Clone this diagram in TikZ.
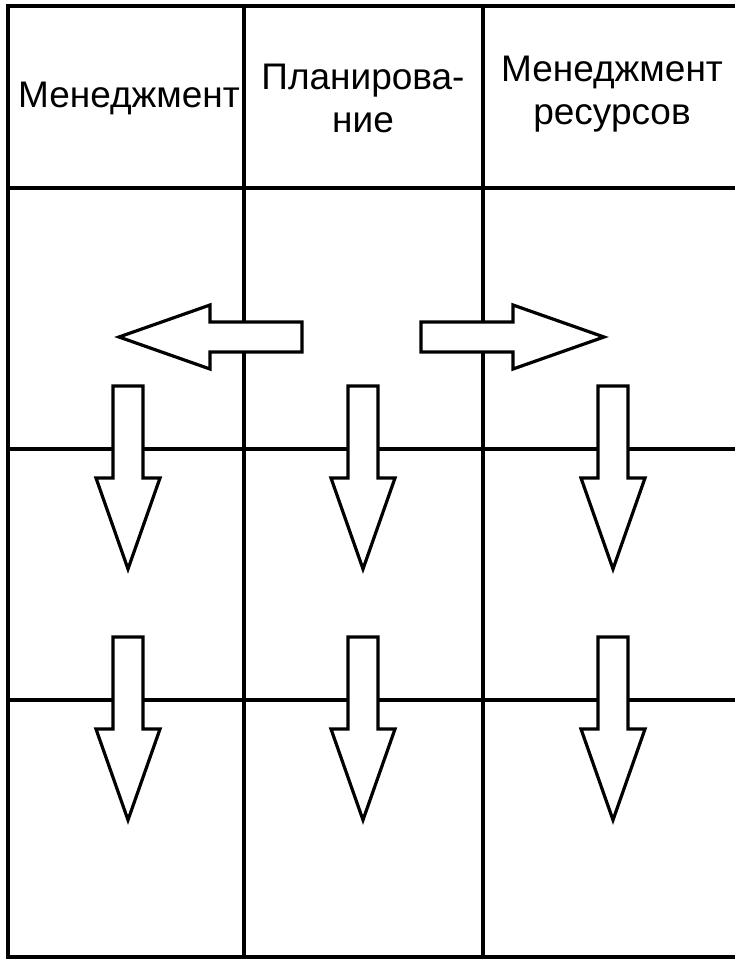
\documentclass[tikz,border=0pt]{standalone}
\usepackage{fontspec}
\setmainfont{Liberation Sans}
\begin{document}
\begin{tikzpicture}[x=1pt,y=-1pt,
  gridline/.style={line width=3.6pt,line cap=rect},
  arrowline/.style={draw,fill=white,line width=3.2pt,line join=miter},
  headtext/.style={font=\fontsize{37}{43}\selectfont,align=center,inner sep=0pt},
  fatarrow/.pic={
    \path[arrowline] (0,-15) -- (92,-15) -- (92,-32) -- (183,0)
      -- (92,32) -- (92,15) -- (0,15) -- cycle;
  }]
\useasboundingbox (0,0) rectangle (735,960);
\clip (0,0) rectangle (735,960);

% table frame and cell borders
\draw[gridline] (760,6) -- (8,6) -- (8,957) -- (760,957);
\draw[gridline] (244,6) -- (244,957);
\draw[gridline] (483,6) -- (483,957);
\draw[gridline] (8,188) -- (760,188);
\draw[gridline] (8,449) -- (760,449);
\draw[gridline] (8,700) -- (760,700);

% column headings
\node[headtext] (h1) at (129,98) {Менеджмент};
\node[headtext] (h2) at (363,98) {Планирова-\\ние};
\node[headtext] (h3) at (612,94) {Менеджмент\\ресурсов};

% arrows from planning towards the neighbouring columns
\pic[rotate=180] (toleft) at (302,337) {fatarrow};
\pic (toright) at (421,337) {fatarrow};

% downward arrows in every column
\foreach \cx/\nm in {128/a,363/b,613/c}{
  \pic[rotate=-90] (down1\nm) at (\cx,386) {fatarrow};
  \pic[rotate=-90] (down2\nm) at (\cx,637) {fatarrow};
}
\end{tikzpicture}
\end{document}
